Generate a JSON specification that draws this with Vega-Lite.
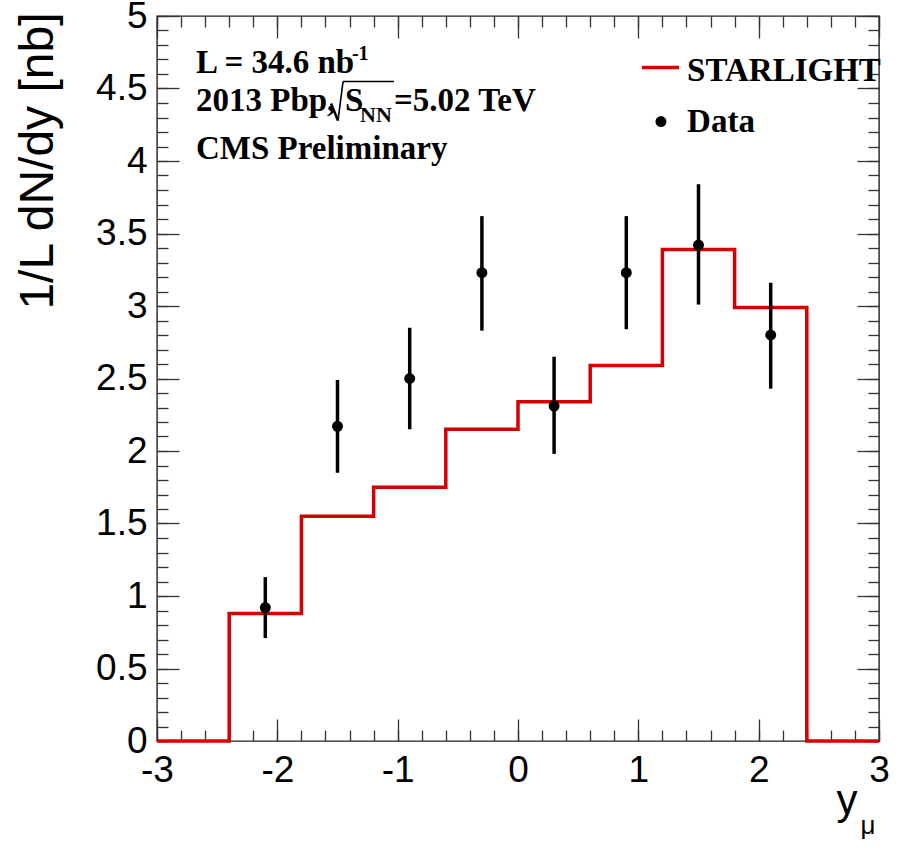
{
  "$schema": "https://vega.github.io/schema/vega-lite/v6.json",
  "width": 722,
  "height": 725,
  "autosize": {"type": "none"},
  "padding": {"left": 157, "top": 16, "right": 26, "bottom": 109},
  "background": "white",
  "config": {
    "view": {"stroke": "#222222", "strokeWidth": 1.4},
    "axis": {
      "domain": false,
      "grid": false,
      "tickColor": "#333333",
      "tickWidth": 1.3,
      "labelFont": "Liberation Sans",
      "labelFontSize": 37,
      "labelColor": "black",
      "labelFlush": false,
      "labelOverlap": false,
      "titleFont": "Liberation Sans",
      "titleFontWeight": "normal",
      "titleColor": "black"
    }
  },
  "datasets": {
    "starlight": [
      {"edge": -3.0, "v": 0},
      {"edge": -2.4, "v": 0.88},
      {"edge": -1.8, "v": 1.55},
      {"edge": -1.2, "v": 1.75},
      {"edge": -0.6, "v": 2.15},
      {"edge": 0.0, "v": 2.34},
      {"edge": 0.6, "v": 2.59},
      {"edge": 1.2, "v": 3.39},
      {"edge": 1.8, "v": 2.99},
      {"edge": 2.4, "v": 0},
      {"edge": 3.0, "v": 0}
    ],
    "cms": [
      {"x": -2.1, "y": 0.92, "lo": 0.71, "hi": 1.13},
      {"x": -1.5, "y": 2.17, "lo": 1.85, "hi": 2.49},
      {"x": -0.9, "y": 2.50, "lo": 2.15, "hi": 2.85},
      {"x": -0.3, "y": 3.23, "lo": 2.83, "hi": 3.62},
      {"x": 0.3, "y": 2.31, "lo": 1.98, "hi": 2.65},
      {"x": 0.9, "y": 3.23, "lo": 2.84, "hi": 3.62},
      {"x": 1.5, "y": 3.42, "lo": 3.01, "hi": 3.84},
      {"x": 2.1, "y": 2.80, "lo": 2.43, "hi": 3.16}
    ]
  },
  "layer": [
    {
      "data": {"name": "starlight"},
      "mark": {"type": "line", "interpolate": "step-after", "color": "#d40000", "strokeWidth": 3.5, "strokeJoin": "miter", "clip": false},
      "encoding": {
        "x": {
          "field": "edge", "type": "quantitative",
          "scale": {"domain": [-3, 3], "nice": false, "zero": false},
          "axis": {
            "orient": "bottom", "values": [-3, -2, -1, 0, 1, 2, 3], "tickSize": -22,
            "labelPadding": 33, "labelExpr": "'' + datum.value",
            "title": "y", "titleFontSize": 42, "titleX": 679, "titleY": 72,
            "titleAlign": "left", "titleBaseline": "alphabetic", "titleAngle": 0
          }
        },
        "y": {
          "field": "v", "type": "quantitative",
          "scale": {"domain": [0, 5], "nice": false, "zero": false},
          "axis": {
            "orient": "left", "values": [0, 0.5, 1, 1.5, 2, 2.5, 3, 3.5, 4, 4.5, 5], "tickSize": -22,
            "labelPadding": 32, "labelExpr": "'' + datum.value",
            "title": "1/L dN/dy [nb]", "titleFontSize": 48, "titleX": -105, "titleY": -4,
            "titleAngle": -90, "titleAlign": "right", "titleBaseline": "alphabetic"
          }
        }
      }
    },
    {
      "data": {"name": "cms"},
      "mark": {"type": "rule", "color": "black", "strokeWidth": 3.5},
      "encoding": {
        "x": {
          "field": "x", "type": "quantitative",
          "scale": {"domain": [-3, 3], "nice": false, "zero": false},
          "axis": {
            "orient": "bottom",
            "values": [-3, -2.8, -2.6, -2.4, -2.2, -2, -1.8, -1.6, -1.4, -1.2, -1, -0.8, -0.6, -0.4, -0.2, 0, 0.2, 0.4, 0.6, 0.8, 1, 1.2, 1.4, 1.6, 1.8, 2, 2.2, 2.4, 2.6, 2.8, 3],
            "tickSize": -11, "labels": false,
            "title": "μ", "titleFontSize": 26, "titleX": 703, "titleY": 92,
            "titleAlign": "left", "titleBaseline": "alphabetic", "titleAngle": 0
          }
        },
        "y": {
          "field": "lo", "type": "quantitative",
          "scale": {"domain": [0, 5], "nice": false, "zero": false},
          "axis": {
            "orient": "left",
            "values": [0, 0.1, 0.2, 0.3, 0.4, 0.5, 0.6, 0.7, 0.8, 0.9, 1, 1.1, 1.2, 1.3, 1.4, 1.5, 1.6, 1.7, 1.8, 1.9, 2, 2.1, 2.2, 2.3, 2.4, 2.5, 2.6, 2.7, 2.8, 2.9, 3, 3.1, 3.2, 3.3, 3.4, 3.5, 3.6, 3.7, 3.8, 3.9, 4, 4.1, 4.2, 4.3, 4.4, 4.5, 4.6, 4.7, 4.8, 4.9, 5],
            "tickSize": -11, "labels": false, "title": null
          }
        },
        "y2": {"field": "hi"}
      }
    },
    {
      "data": {"name": "cms"},
      "mark": {"type": "point", "filled": true, "color": "black", "opacity": 1, "size": 120, "shape": "circle"},
      "encoding": {
        "x": {
          "field": "x", "type": "quantitative",
          "scale": {"domain": [-3, 3], "nice": false, "zero": false},
          "axis": {"orient": "top", "values": [-3, -2, -1, 0, 1, 2, 3], "tickSize": -22, "labels": false, "title": null}
        },
        "y": {
          "field": "y", "type": "quantitative",
          "scale": {"domain": [0, 5], "nice": false, "zero": false},
          "axis": {"orient": "right", "values": [0, 0.5, 1, 1.5, 2, 2.5, 3, 3.5, 4, 4.5, 5], "tickSize": -22, "labels": false, "title": null}
        }
      }
    },
    {
      "data": {"values": [{}]},
      "mark": {"type": "text", "text": "L = 34.6 nb", "font": "Liberation Serif", "fontWeight": "bold", "fontSize": 33, "align": "left", "baseline": "alphabetic", "color": "black"},
      "encoding": {
        "x": {
          "datum": -2.676, "type": "quantitative",
          "axis": {
            "orient": "top",
            "values": [-3, -2.8, -2.6, -2.4, -2.2, -2, -1.8, -1.6, -1.4, -1.2, -1, -0.8, -0.6, -0.4, -0.2, 0, 0.2, 0.4, 0.6, 0.8, 1, 1.2, 1.4, 1.6, 1.8, 2, 2.2, 2.4, 2.6, 2.8, 3],
            "tickSize": -11, "labels": false, "title": null
          }
        },
        "y": {
          "datum": 4.61, "type": "quantitative",
          "axis": {
            "orient": "right",
            "values": [0, 0.1, 0.2, 0.3, 0.4, 0.5, 0.6, 0.7, 0.8, 0.9, 1, 1.1, 1.2, 1.3, 1.4, 1.5, 1.6, 1.7, 1.8, 1.9, 2, 2.1, 2.2, 2.3, 2.4, 2.5, 2.6, 2.7, 2.8, 2.9, 3, 3.1, 3.2, 3.3, 3.4, 3.5, 3.6, 3.7, 3.8, 3.9, 4, 4.1, 4.2, 4.3, 4.4, 4.5, 4.6, 4.7, 4.8, 4.9, 5],
            "tickSize": -11, "labels": false, "title": null
          }
        }
      }
    },
    {
      "data": {"values": [{}]},
      "mark": {"type": "text", "text": "-1", "font": "Liberation Serif", "fontWeight": "bold", "fontSize": 20, "align": "left", "baseline": "alphabetic", "color": "black"},
      "encoding": {
        "x": {"datum": -1.38, "type": "quantitative", "axis": null},
        "y": {"datum": 4.70, "type": "quantitative", "axis": null}
      }
    },
    {
      "data": {"values": [{}]},
      "mark": {"type": "text", "text": "2013 Pbp,", "font": "Liberation Serif", "fontWeight": "bold", "fontSize": 33, "align": "left", "baseline": "alphabetic", "color": "black"},
      "encoding": {
        "x": {"datum": -2.676, "type": "quantitative", "axis": null},
        "y": {"datum": 4.348, "type": "quantitative", "axis": null}
      }
    },
    {
      "data": {"values": [{}]},
      "mark": {"type": "rule", "color": "black", "strokeWidth": 2.5},
      "encoding": {
        "x": {"datum": -1.554, "type": "quantitative", "axis": null},
        "x2": {"datum": -1.496},
        "y": {"datum": 4.397, "type": "quantitative", "axis": null},
        "y2": {"datum": 4.279}
      }
    },
    {
      "data": {"values": [{}]},
      "mark": {"type": "rule", "color": "black", "strokeWidth": 1.6},
      "encoding": {
        "x": {"datum": -1.496, "type": "quantitative", "axis": null},
        "x2": {"datum": -1.454},
        "y": {"datum": 4.279, "type": "quantitative", "axis": null},
        "y2": {"datum": 4.548}
      }
    },
    {
      "data": {"values": [{}]},
      "mark": {"type": "rule", "color": "black", "strokeWidth": 1.5},
      "encoding": {
        "x": {"datum": -1.454, "type": "quantitative", "axis": null},
        "x2": {"datum": -1.03},
        "y": {"datum": 4.548, "type": "quantitative", "axis": null}
      }
    },
    {
      "data": {"values": [{}]},
      "mark": {"type": "text", "text": "S", "font": "Liberation Serif", "fontWeight": "bold", "fontSize": 33, "align": "left", "baseline": "alphabetic", "color": "black"},
      "encoding": {
        "x": {"datum": -1.438, "type": "quantitative", "axis": null},
        "y": {"datum": 4.348, "type": "quantitative", "axis": null}
      }
    },
    {
      "data": {"values": [{}]},
      "mark": {"type": "text", "text": "NN", "font": "Liberation Serif", "fontWeight": "bold", "fontSize": 22, "align": "left", "baseline": "alphabetic", "color": "black"},
      "encoding": {
        "x": {"datum": -1.313, "type": "quantitative", "axis": null},
        "y": {"datum": 4.266, "type": "quantitative", "axis": null}
      }
    },
    {
      "data": {"values": [{}]},
      "mark": {"type": "text", "text": "=5.02 TeV", "font": "Liberation Serif", "fontWeight": "bold", "fontSize": 33, "align": "left", "baseline": "alphabetic", "color": "black"},
      "encoding": {
        "x": {"datum": -1.03, "type": "quantitative", "axis": null},
        "y": {"datum": 4.348, "type": "quantitative", "axis": null}
      }
    },
    {
      "data": {"values": [{}]},
      "mark": {"type": "text", "text": "CMS Preliminary", "font": "Liberation Serif", "fontWeight": "bold", "fontSize": 33, "align": "left", "baseline": "alphabetic", "color": "black"},
      "encoding": {
        "x": {"datum": -2.676, "type": "quantitative", "axis": null},
        "y": {"datum": 4.017, "type": "quantitative", "axis": null}
      }
    },
    {
      "data": {"values": [{}]},
      "mark": {"type": "rule", "color": "#d40000", "strokeWidth": 3.5},
      "encoding": {
        "x": {"datum": 1.031, "type": "quantitative", "axis": null},
        "x2": {"datum": 1.338},
        "y": {"datum": 4.645, "type": "quantitative", "axis": null}
      }
    },
    {
      "data": {"values": [{}]},
      "mark": {"type": "text", "text": "STARLIGHT", "font": "Liberation Serif", "fontWeight": "bold", "fontSize": 33, "align": "left", "baseline": "alphabetic", "color": "black"},
      "encoding": {
        "x": {"datum": 1.405, "type": "quantitative", "axis": null},
        "y": {"datum": 4.555, "type": "quantitative", "axis": null}
      }
    },
    {
      "data": {"values": [{}]},
      "mark": {"type": "point", "filled": true, "color": "black", "opacity": 1, "size": 120, "shape": "circle"},
      "encoding": {
        "x": {"datum": 1.188, "type": "quantitative", "axis": null},
        "y": {"datum": 4.272, "type": "quantitative", "axis": null}
      }
    },
    {
      "data": {"values": [{}]},
      "mark": {"type": "text", "text": "Data", "font": "Liberation Serif", "fontWeight": "bold", "fontSize": 33, "align": "left", "baseline": "alphabetic", "color": "black"},
      "encoding": {
        "x": {"datum": 1.405, "type": "quantitative", "axis": null},
        "y": {"datum": 4.197, "type": "quantitative", "axis": null}
      }
    }
  ],
  "resolve": {"axis": {"x": "independent", "y": "independent"}}
}
